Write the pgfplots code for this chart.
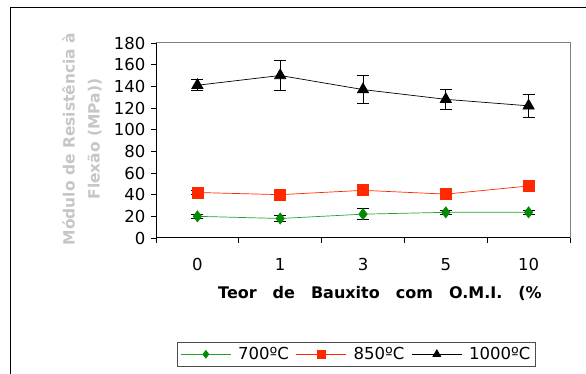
\documentclass[border=0pt]{standalone}
\usepackage{pgfplots}
\pgfplotsset{compat=1.18}
\usepackage{fontspec}
\setmainfont{DejaVu Sans}
\definecolor{dgreen}{RGB}{0,140,0}
\definecolor{lgreen}{RGB}{40,160,40}
\definecolor{ored}{RGB}{255,40,0}
\begin{document}
\begin{tikzpicture}[x=1pt,y=1pt]
\useasboundingbox (0,0) rectangle (586,374);
\draw[line width=1pt] (10,0) -- (10,366) -- (586,366);
\node[rotate=90, align=center, text=gray!45, font=\bfseries\fontsize{15.5}{25}\selectfont] at (82,235) {Módulo de Resistência à\\Flexão (MPa))};
\node[anchor=west, font=\bfseries\fontsize{16}{19}\selectfont, inner sep=0pt] at (218,81) {Teor\hspace{16pt}de\hspace{16pt}Bauxito\hspace{16pt}com\hspace{16pt}O.M.I.\hspace{16pt}(\%};
\begin{axis}[
 at={(156pt,136pt)}, anchor=south west,
 scale only axis, width=414pt, height=195pt,
 xmin=-0.5, xmax=4.5, ymin=0, ymax=180,
 axis x line*=bottom, axis y line*=left,
 axis line style={line width=1pt,-},
 tick align=outside,
 xtick={0,...,4}, xticklabels={0,1,3,5,10},
 major x tick style={draw=none},
 minor xtick={-0.5,0.5,...,4.5},
 minor tick length=5pt, major tick length=5pt,
 tick style={black, line width=0.8pt},
 ytick={0,20,...,180},
 /pgf/number format/assume math mode=true,
 ticklabel style={font=\fontsize{16.5}{19}\selectfont},
 xticklabel style={yshift=-12pt},
 yticklabel style={xshift=-2pt},
 clip=false,
 legend columns=3,
 legend style={at={(0.0507,-0.533)}, anchor=north west, draw=gray!60!black, line width=1pt,
   font=\fontsize{16.5}{19}\selectfont, column sep=5pt, inner sep=3pt},
 legend image code/.code={\draw[mark repeat=2,mark phase=2,#1,every mark/.append style={scale=0.7}] plot coordinates {(0pt,0pt) (25pt,0pt) (50pt,0pt)};},
 error bars/y dir=both, error bars/y explicit,
 error bars/error bar style={black, line width=0.7pt},
 error bars/error mark options={rotate=90, mark size=6pt, black, line width=0.7pt},
]
\draw[gray, line width=1pt] (rel axis cs:0,1) -- (rel axis cs:1,1) -- (rel axis cs:1,0);
\addplot[color=lgreen, line width=0.7pt, mark=diamond*, mark size=5.5pt, mark options={dgreen, fill=dgreen}]
 coordinates {(0,20) +- (0,2) (1,18) +- (0,3) (2,22) +- (0,5) (3,23.7) +- (0,1.5) (4,23.7) +- (0,1.5)};
\addlegendentry{700ºC}
\addplot[color=ored, line width=0.7pt, mark=square*, mark size=5.5pt, mark options={ored, fill=ored}]
 coordinates {(0,42) +- (0,2) (1,40) +- (0,3) (2,44) +- (0,3) (3,40.5) +- (0,3) (4,48) +- (0,3)};
\addlegendentry{850ºC}
\addplot[color=black, line width=0.7pt, mark=triangle*, mark size=6.5pt, mark options={black, fill=black}]
 coordinates {(0,141) +- (0,5) (1,150) +- (0,14) (2,137) +- (0,13) (3,128) +- (0,9.5) (4,122) +- (0,11)};
\addlegendentry{1000ºC}
\end{axis}
\end{tikzpicture}
\end{document}
